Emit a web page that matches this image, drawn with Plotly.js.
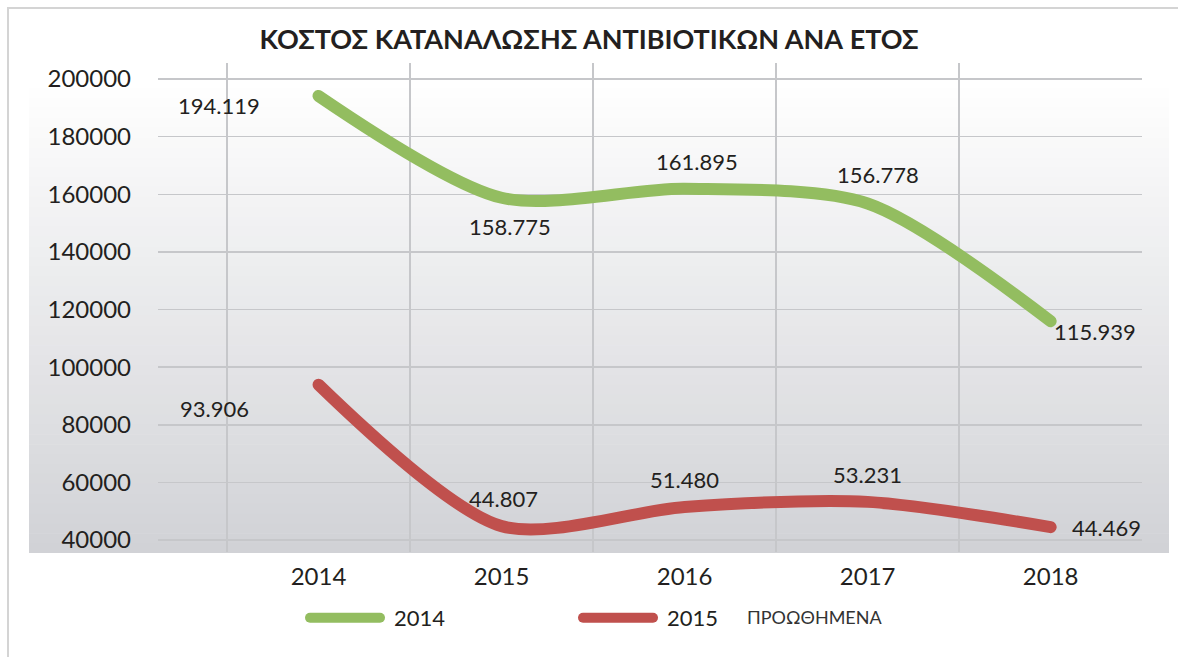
<!DOCTYPE html>
<html>
<head>
<meta charset="utf-8">
<script src="https://cdn.plot.ly/plotly-3.0.1.min.js"></script>
<style>
  body { margin: 0; background: #ffffff; }
  #chart { width: 1178px; height: 657px; }
  .js-line, .legendlines path { stroke-linecap: round; }
  .legend .legendtext { transform: translate(9px, 0); }
</style>
</head>
<body>
<div id="chart"></div>
<script>
// ---- data ----
const years = ['2014', '2015', '2016', '2017', '2018'];
const cost2014 = [194119, 158775, 161895, 156778, 115939];
const cost2015 = [93906, 44807, 51480, 53231, 44469];
const seriesNames = ['2014', '2015'];
const chartTitle = 'ΚΟΣΤΟΣ ΚΑΤΑΝΑΛΩΣΗΣ ΑΝΤΙΒΙΟΤΙΚΩΝ ΑΝΑ ΕΤΟΣ';
const extraLegendText = 'ΠΡΟΩΘΗΜΕΝΑ';

// ---- style ----
const FONT = 'Lato, "Open Sans", sans-serif';
const TXT = '#231f20';
const GREEN = '#93bd60';
const RED = '#c0504d';

// label offsets (pixels) per point, styling only
const labelShift2014 = [[-100, -10], [8, -29], [12, 27], [10, 29], [44, -10]];
const labelShift2015 = [[-104, -24], [2, 28], [0, 27], [0, 27], [56, 0]];

const traces = [
  {
    x: years, y: cost2014, name: seriesNames[0], type: 'scatter', mode: 'lines',
    line: { color: GREEN, width: 12, shape: 'spline', smoothing: 0.8 },
    hoverinfo: 'skip'
  },
  {
    x: years, y: cost2015, name: seriesNames[1], type: 'scatter', mode: 'lines',
    line: { color: RED, width: 12, shape: 'spline', smoothing: 0.8 },
    hoverinfo: 'skip'
  }
];

const fmt = v => String(v).replace(/\B(?=(\d{3})+(?!\d))/g, '.');

// plot area in pixels: left 158, right 1142, top 63, bottom 552
const L = 158, R = 1142, T = 63, B = 552;
const px = v => (v - L) / (R - L);
const py = v => (B - v) / (B - T);

const annotations = [];
[[cost2014, labelShift2014], [cost2015, labelShift2015]].forEach(([vals, shifts]) => {
  vals.forEach((v, i) => {
    annotations.push({
      x: i, y: v, xref: 'x', yref: 'y', text: fmt(v), showarrow: false,
      xanchor: 'center', yanchor: 'middle', xshift: shifts[i][0], yshift: shifts[i][1],
      font: { family: FONT, size: 22, color: TXT }
    });
  });
});
annotations.push({
  text: extraLegendText, xref: 'paper', yref: 'paper',
  x: px(745), xanchor: 'left', y: py(617), yanchor: 'middle',
  showarrow: false, font: { family: FONT, size: 18, color: '#333333' }
});

// gradient background built from thin strips
const shapes = [];
const gTop = 78, gBot = 553, nStrips = 48;
const c0 = [255, 255, 255], c1 = [209, 210, 214];
for (let i = 0; i < nStrips; i++) {
  const y0 = gTop + (gBot - gTop) * i / nStrips;
  const y1 = gTop + (gBot - gTop) * (i + 1) / nStrips + 0.6;
  const t = (i + 0.5) / nStrips;
  const c = c0.map((a, k) => Math.round(a + (c1[k] - a) * t));
  shapes.push({
    type: 'rect', xref: 'paper', yref: 'paper', layer: 'below',
    x0: px(29), x1: px(1169), y0: py(Math.min(y1, gBot)), y1: py(y0),
    line: { width: 0 }, fillcolor: `rgb(${c[0]},${c[1]},${c[2]})`
  });
}
// outer frame
shapes.push({
  type: 'rect', xref: 'paper', yref: 'paper', layer: 'below',
  x0: px(8), x1: px(1200), y0: py(680), y1: py(8),
  line: { color: '#d4d4d4', width: 2 }, fillcolor: 'rgba(0,0,0,0)'
});

const layout = {
  width: 1178, height: 657,
  margin: { l: L, r: 1178 - R, t: T, b: 657 - B, pad: 0 },
  paper_bgcolor: '#ffffff',
  plot_bgcolor: 'rgba(0,0,0,0)',
  font: { family: FONT, color: TXT },
  title: {
    text: chartTitle,
    font: { family: FONT, size: 27, color: TXT, weight: 'bold' },
    x: 0.5, xanchor: 'center', y: 1 - 40 / 657, yanchor: 'middle'
  },
  xaxis: {
    type: 'category', categoryorder: 'array', categoryarray: years,
    range: [-0.877, 4.499],
    tickson: 'boundaries', ticks: '', ticklen: 0,
    showgrid: true, gridcolor: '#c6c7ca', gridwidth: 1.5,
    showline: false, zeroline: false,
    tickfont: { family: FONT, size: 24, color: TXT },
    ticklabelstandoff: 8
  },
  yaxis: {
    range: [35833, 205556], dtick: 20000, tick0: 0, tickformat: 'd',
    ticks: '', showgrid: true, gridcolor: '#c6c7ca', gridwidth: 1.5,
    showline: false, zeroline: false,
    tickfont: { family: FONT, size: 24, color: TXT },
    ticklabelstandoff: 26
  },
  showlegend: true,
  legend: {
    orientation: 'h', x: px(305), xanchor: 'left', y: py(618), yanchor: 'middle',
    font: { family: FONT, size: 22, color: TXT },
    itemwidth: 70,
    entrywidth: 188, entrywidthmode: 'pixels',
    bgcolor: 'rgba(0,0,0,0)'
  },
  annotations: annotations,
  shapes: shapes
};

Plotly.newPlot('chart', traces, layout, { displayModeBar: false, staticPlot: true });
</script>
</body>
</html>
